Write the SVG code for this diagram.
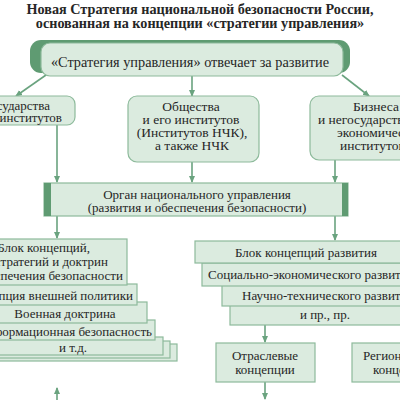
<svg xmlns="http://www.w3.org/2000/svg" width="400" height="400" viewBox="0 0 400 400">
<defs>
<style>
.t{font-family:"Liberation Serif","Times New Roman",serif;font-size:13px;fill:#262626}
.ttl{font-family:"Liberation Serif","Times New Roman",serif;font-size:14.2px;font-weight:bold;fill:#262626;text-anchor:middle}
.big{font-size:14.3px}
.mid{font-size:13.5px}
.m{text-anchor:middle}
.e{text-anchor:end}
.box{fill:#dbebdf;stroke:#8dba9b;stroke-width:1.2}
.dark{fill:#5f9b72}
.ln{stroke:#6aa37f;stroke-width:1.6;fill:none;marker-end:url(#ah)}
</style>
<marker id="ah" markerWidth="8" markerHeight="8" refX="6" refY="4" orient="auto" markerUnits="userSpaceOnUse">
<path d="M0,1 L7,4 L0,7 Z" fill="#6aa37f"/>
</marker>
</defs>
<rect width="400" height="400" fill="#ffffff"/>
<g id="title">
<text class="ttl" x="200" y="14">Новая Стратегия национальной безопасности России,</text>
<text class="ttl" x="200" y="28">основанная на концепции «стратегии управления»</text>
</g>
<g id="connectors">
<line class="ln" x1="46" y1="75" x2="16" y2="96"/>
<line class="ln" x1="192" y1="76" x2="192" y2="96"/>
<line class="ln" x1="342" y1="75" x2="369" y2="96"/>
<line class="ln" x1="57" y1="125" x2="57" y2="182"/>
<line class="ln" x1="192" y1="162" x2="192" y2="182"/>
<line class="ln" x1="335" y1="160" x2="335" y2="182"/>
<line class="ln" x1="57" y1="216" x2="57" y2="238"/>
<line class="ln" x1="335" y1="216" x2="335" y2="240"/>
<line class="ln" x1="57" y1="400" x2="57" y2="388"/>
<line class="ln" x1="265" y1="325" x2="265" y2="342"/>
<line class="ln" x1="265" y1="382" x2="265" y2="399"/>
</g>
<g id="top">
<rect class="dark" x="30" y="40" width="320" height="33" rx="11"/>
<rect class="box" x="41" y="43" width="302" height="33" rx="9"/>
<text class="t big m" x="190" y="67">«Стратегия управления» отвечает за развитие</text>
</g>
<g id="state">
<rect class="box" x="-30" y="96" width="105" height="29" rx="8"/>
<text class="t e" x="50" y="110">Государства</text>
<text class="t e" x="62" y="122">и институтов</text>
</g>
<g id="society">
<rect class="box" x="128" y="96" width="131" height="66" rx="9"/>
<text class="t mid m" x="191" y="111">Общества</text>
<text class="t mid m" x="191" y="124">и его институтов</text>
<text class="t mid m" x="192" y="137">(Институтов НЧК),</text>
<text class="t mid m" x="192" y="150">а также НЧК</text>
</g>
<g id="business">
<rect class="box" x="310" y="96" width="120" height="64" rx="9"/>
<text class="t mid" x="353" y="111">Бизнеса</text>
<text class="t mid" x="318" y="124">и негосударственных</text>
<text class="t mid" x="337" y="137">экономических</text>
<text class="t mid" x="340" y="150">институтов</text>
</g>
<g id="organ">
<rect class="box" x="44" y="183" width="304" height="33"/>
<rect class="dark" x="44" y="183" width="7" height="33"/>
<rect class="dark" x="342" y="183" width="6" height="33"/>
<text class="t m" x="197" y="199">Орган национального управления</text>
<text class="t m" x="197" y="212">(развития и обеспечения безопасности)</text>
</g>
<g id="security-stack">
<rect class="box" x="-20" y="344" width="197" height="17"/>
<rect class="box" x="-20" y="341" width="190" height="17"/>
<rect class="box" x="-20" y="337" width="183" height="18"/>
<rect class="box" x="-20" y="320" width="175" height="20"/>
<rect class="box" x="-20" y="302" width="167" height="21"/>
<rect class="box" x="-20" y="284" width="157" height="21"/>
<rect class="box" x="-40" y="239" width="167" height="46"/>
<text class="t e" x="90" y="252">Блок концепций,</text>
<text class="t e" x="108" y="266">стратегий и доктрин</text>
<text class="t e" x="123" y="280">обеспечения безопасности</text>
<text class="t e" x="133" y="300">Концепция внешней политики</text>
<text class="t m" x="65" y="318">Военная доктрина</text>
<text class="t e" x="152" y="336">Информационная безопасность</text>
<text class="t m" x="73" y="352">и т.д.</text>
</g>
<g id="dev-stack">
<rect class="box" x="230" y="304" width="190" height="21"/>
<rect class="box" x="222" y="285" width="198" height="21"/>
<rect class="box" x="202" y="263" width="218" height="23"/>
<rect class="box" x="195" y="241" width="225" height="22"/>
<text class="t m" x="306" y="257">Блок концепций развития</text>
<text class="t" x="208" y="279">Социально-экономического развития</text>
<text class="t" x="242" y="300">Научно-технического развития</text>
<text class="t m" x="325" y="319">и пр., пр.</text>
</g>
<g id="branch">
<rect class="box" x="216" y="343" width="99" height="39"/>
<text class="t m" x="265" y="360">Отраслевые</text>
<text class="t m" x="265" y="374">концепции</text>
</g>
<g id="regional">
<rect class="box" x="352" y="343" width="99" height="39"/>
<text class="t" x="363" y="360">Региональные</text>
<text class="t" x="373" y="374">концепции</text>
</g>
</svg>
